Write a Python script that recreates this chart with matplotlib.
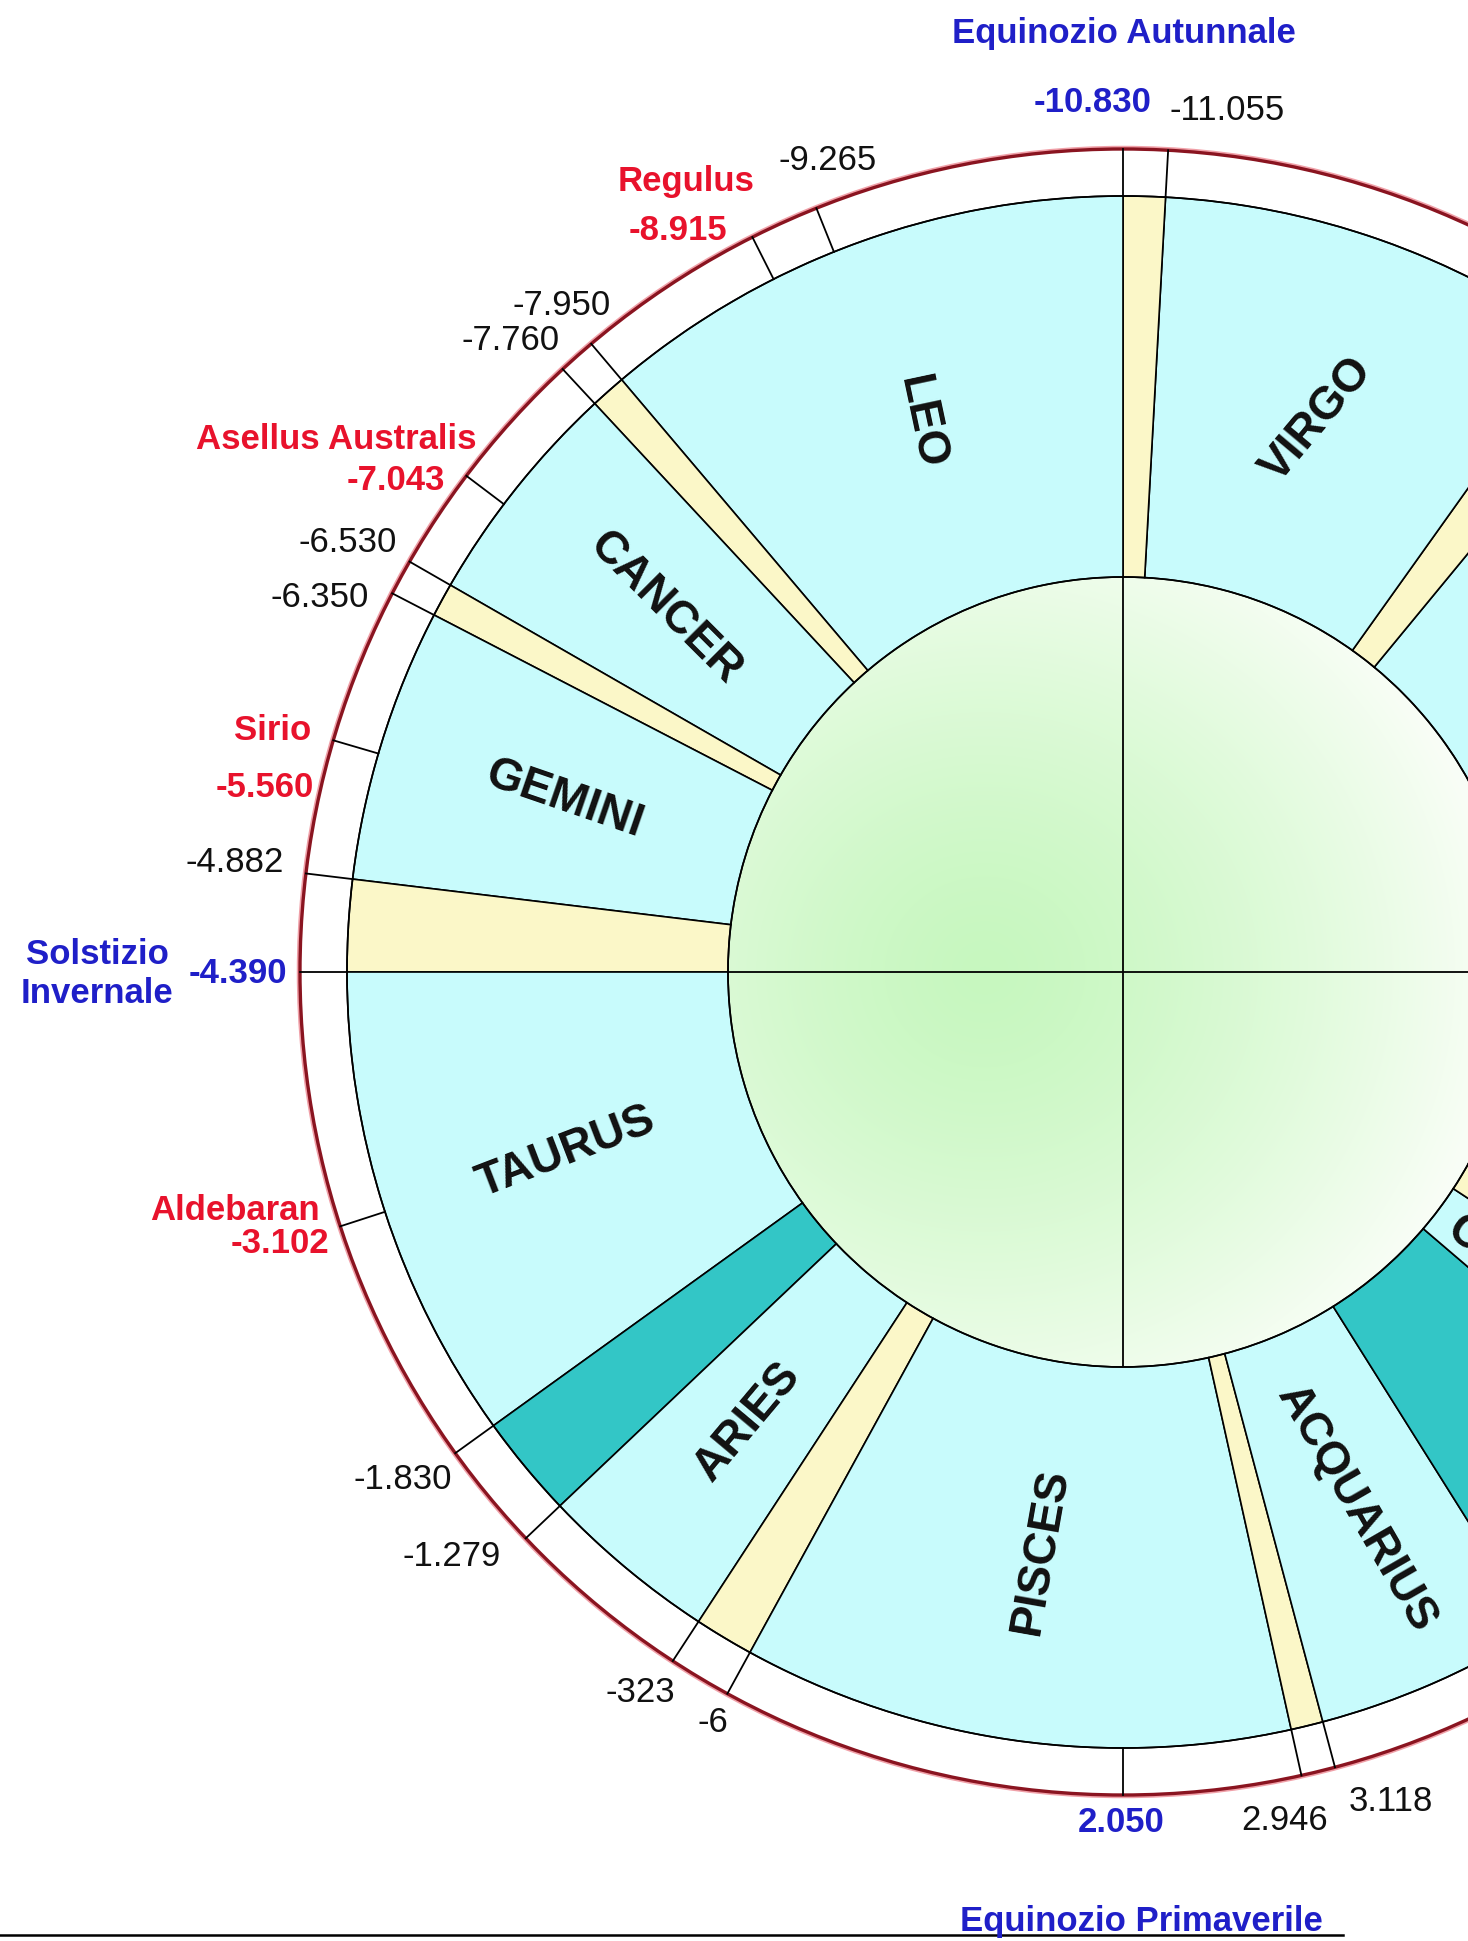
import numpy as np
import matplotlib
matplotlib.use("Agg")
import matplotlib.pyplot as plt
from matplotlib.patches import Wedge, Circle

plt.rcParams['font.family'] = ['Liberation Sans', 'DejaVu Sans']

# ---------------- data ----------------
PERIOD = 25760          # years for one full turn of the wheel
YEAR_TOP = -10830       # year at the top of the wheel

# main ring segments (years), kind: c = constellation, y = gap, t = overlap
seg_start = [-17270, -13656, -13370, -11055, -10830, -7950, -7760, -6530, -6350,
             -4882, -4390, -1830, -1279, -323, -6, 2946, 3118, 4350, 5590, 6110, 6410]
seg_end = seg_start[1:] + [8490]
seg_kind = ['c', 'y', 'c', 'y', 'c', 'y', 'c', 'y', 'c', 'y', 'c', 't', 'c', 'y',
            'c', 'y', 'c', 't', 'c', 'y', 'c']

const_names = ['VIRGO', 'LEO', 'CANCER', 'GEMINI', 'TAURUS', 'ARIES', 'PISCES',
               'ACQUARIUS', 'CAPRICORNUS']
const_from = [-13370, -10830, -7760, -6350, -4390, -1279, -6, 3118, 5590]
const_to = [-11055, -7950, -6530, -4882, -1830, -323, 2946, 4350, 6110]

tick_years = [-11055, -10830, -9265, -8915, -7950, -7760, -7043, -6530, -6350,
              -5560, -4882, -4390, -3102, -1830, -1279, -323, -6, 2050, 2946, 3118]
tick_labels = ['-11.055', '-10.830', '-9.265', '-8.915', '-7.950', '-7.760', '-7.043',
               '-6.530', '-6.350', '-5.560', '-4.882', '-4.390', '-3.102', '-1.830',
               '-1.279', '-323', '-6', '2.050', '2.946', '3.118']
tick_kind = ['n', 'e', 'n', 's', 'n', 'n', 's', 'n', 'n', 's', 'n', 'e', 's', 'n',
             'n', 'n', 'n', 'e', 'n', 'n']

star_names = ['Regulus', 'Asellus Australis', 'Sirio', 'Aldebaran']
star_years = [-8915, -7043, -5560, -3102]

cardinal_names = ['Equinozio Autunnale', 'Solstizio\nInvernale', 'Equinozio Primaverile']
cardinal_years = [-10830, -4390, 2050]

# ---------------- layout / style ----------------
W, H = 1468, 1941
CX, CY = 1123, H - 972
R_IN, R_RING, R_OUT = 395, 776, 823
R_LABEL = 585

fill = {'c': '#c8fbfc', 'y': '#fbf7c8', 't': '#33c6c6'}
txt_col = {'n': '#111111', 'e': '#1f1fc8', 's': '#e8122c'}
txt_w = {'n': 'normal', 'e': 'bold', 's': 'bold'}

# label offsets in pixels (dx, dy downwards) from the outer end of each tick
tick_off = [(59, -40), (-30, -46), (11, -48), (-74, -7), (-30, -38), (-52, -29),
            (-71, 5), (-62, -19), (-73, 4), (-69, 47), (-71, -11), (-62, 2),
            (-60, 17), (-53, 26), (-74, 18), (-32, 32), (-14, 29), (-2, 27),
            (-17, 45), (56, 34)]
star_off = [(-66, -56), (-130, -36), (-61, -10), (-105, -16)]
card_off = [(1, -115), (-203, 2), (18, 127)]
const_rot = [50, -78, -45, -19, 21, 50, 80, -60, -35]


def ang(year):
    return 90.0 + (year - YEAR_TOP) * 360.0 / PERIOD


def pol(year, r):
    a = np.deg2rad(ang(year))
    return CX + r * np.cos(a), CY + r * np.sin(a)


fig = plt.figure(figsize=(W / 100, H / 100), dpi=100)
ax = fig.add_axes([0, 0, 1, 1])
ax.set_xlim(0, W)
ax.set_ylim(0, H)
ax.set_aspect('equal')
ax.axis('off')

# central gradient disc
n = 400
u = np.linspace(-1, 1, n)
U, V = np.meshgrid(u, u)
d = np.sqrt(((U + 0.35) / 1.0) ** 2 + (V / 0.95) ** 2)
t = np.clip(d / 1.3, 0, 1) ** 1.4
c0 = np.array([0.78, 0.97, 0.75])
c1 = np.array([0.975, 0.995, 0.965])
img = c0[None, None, :] * (1 - t[..., None]) + c1[None, None, :] * t[..., None]
im = ax.imshow(img, extent=[CX - R_IN, CX + R_IN, CY - R_IN, CY + R_IN],
               origin='lower', zorder=1, interpolation='bilinear')
clip = Circle((CX, CY), R_IN, transform=ax.transData)
im.set_clip_path(clip)

# cross lines in the centre
ax.plot([CX - R_IN, CX + R_IN], [CY, CY], color='black', lw=1.3, zorder=2)
ax.plot([CX, CX], [CY - R_IN, CY + R_IN], color='black', lw=1.3, zorder=2)

# main ring
for s, e, k in zip(seg_start, seg_end, seg_kind):
    ax.add_patch(Wedge((CX, CY), R_RING, ang(s), ang(e), width=R_RING - R_IN,
                       facecolor=fill[k], edgecolor='black', lw=1.2, zorder=3))

# outer ring
ax.add_patch(Circle((CX, CY), R_RING, facecolor='none', edgecolor='black', lw=1.2, zorder=4))
ax.add_patch(Circle((CX, CY), R_OUT + 1.5, facecolor='none', edgecolor='#f0a0a8', lw=2.5, zorder=4))
ax.add_patch(Circle((CX, CY), R_OUT, facecolor='none', edgecolor='#8a1420', lw=2.4, zorder=5))
ax.add_patch(Circle((CX, CY), R_IN, facecolor='none', edgecolor='black', lw=1.2, zorder=4))

# ticks in the outer ring and their labels
for y, lab, k, (dx, dy) in zip(tick_years, tick_labels, tick_kind, tick_off):
    x0, y0 = pol(y, R_RING)
    x1, y1 = pol(y, R_OUT)
    ax.plot([x0, x1], [y0, y1], color='black', lw=1.3, zorder=5)
    ax.text(x1 + dx, y1 - dy, lab, color=txt_col[k], fontweight=txt_w[k],
            fontsize=25, ha='center', va='center', zorder=6)

for name, y, (dx, dy) in zip(star_names, star_years, star_off):
    x1, y1 = pol(y, R_OUT)
    ax.text(x1 + dx, y1 - dy, name, color=txt_col['s'], fontweight='bold',
            fontsize=25, ha='center', va='center', zorder=6)

for name, y, (dx, dy) in zip(cardinal_names, cardinal_years, card_off):
    x1, y1 = pol(y, R_OUT)
    ax.text(x1 + dx, y1 - dy, name, color=txt_col['e'], fontweight='bold',
            fontsize=25, ha='center', va='center', multialignment='center',
            linespacing=1.25, zorder=6)

# constellation names
for name, a, b, rot in zip(const_names, const_from, const_to, const_rot):
    x, y = pol((a + b) / 2.0, R_LABEL)
    ax.text(x, y, name, fontsize=33, fontweight='bold', color='#111111',
            rotation=rot, rotation_mode='anchor', ha='center', va='center',
            zorder=7, clip_on=True)

# bottom rule
ax.plot([0, 1343], [H - 1935, H - 1935], color='black', lw=1.8, zorder=2)

fig.savefig('out.png', dpi=100, facecolor='white')
